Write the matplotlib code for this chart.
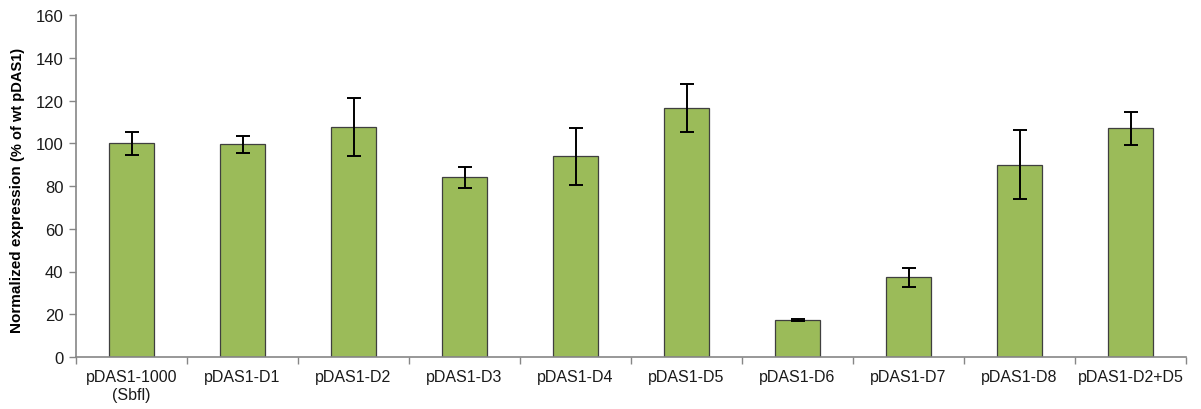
import numpy as np
import matplotlib
matplotlib.use("Agg")
import matplotlib.pyplot as plt

plt.rcParams['font.family'] = ['Liberation Sans', 'DejaVu Sans']

# construct names, mean expression and error (% of wt pDAS1)
constructs = ['pDAS1-1000\n(Sbfl)', 'pDAS1-D1', 'pDAS1-D2', 'pDAS1-D3', 'pDAS1-D4',
              'pDAS1-D5', 'pDAS1-D6', 'pDAS1-D7', 'pDAS1-D8', 'pDAS1-D2+D5']
expression = [100.0, 99.6, 107.6, 84.1, 94.0, 116.6, 17.3, 37.3, 90.0, 107.0]
errors = [5.3, 4.0, 13.5, 5.0, 13.3, 11.2, 0.6, 4.4, 16.3, 7.6]
yticks = [0, 20, 40, 60, 80, 100, 120, 140, 160]

fig = plt.figure(figsize=(12.01, 4.10), dpi=100)
ax = fig.add_axes([76 / 1201, 1 - 358 / 410, 1110 / 1201, 342 / 410])

x = np.arange(len(constructs))
ax.bar(x, expression, width=0.4, color='#9bbb59', edgecolor='#3f3f3f', linewidth=0.9, zorder=2)
ax.errorbar(x, expression, yerr=errors, fmt='none', ecolor='black',
            elinewidth=1.4, capsize=5, capthick=1.4, zorder=3)

ax.set_xlim(-0.5, len(constructs) - 0.5)
ax.set_ylim(0, 160)
ax.set_yticks(yticks)
ax.set_xticks(x)
ax.set_xticklabels(constructs, fontsize=11.5, color='#1a1a1a', linespacing=1.25)
ax.set_xticks(np.arange(len(constructs) + 1) - 0.5, minor=True)
ax.tick_params(axis='x', which='major', length=0, pad=9)
ax.tick_params(axis='x', which='minor', length=5, width=1, color='#868686', direction='out')
ax.tick_params(axis='y', length=5, width=1, color='#868686', labelsize=12,
               labelcolor='#1a1a1a', pad=4)

for side in ['top', 'right']:
    ax.spines[side].set_visible(False)
for side in ['left', 'bottom']:
    ax.spines[side].set_color('#868686')
    ax.spines[side].set_linewidth(1.2)

# y label in two sizes, stacked along the vertical
t1 = fig.text(17 / 1201, 1 - 333 / 410, 'Normalized expression', rotation=90,
              ha='center', va='bottom', fontsize=11, fontweight='bold')
fig.canvas.draw()
bb = t1.get_window_extent().transformed(fig.transFigure.inverted())
fig.text(18 / 1201, bb.y1 + 4 / 410, '(% of wt pDAS1)', rotation=90,
         ha='center', va='bottom', fontsize=10.5, fontweight='bold')

fig.savefig('out.png', dpi=100)
